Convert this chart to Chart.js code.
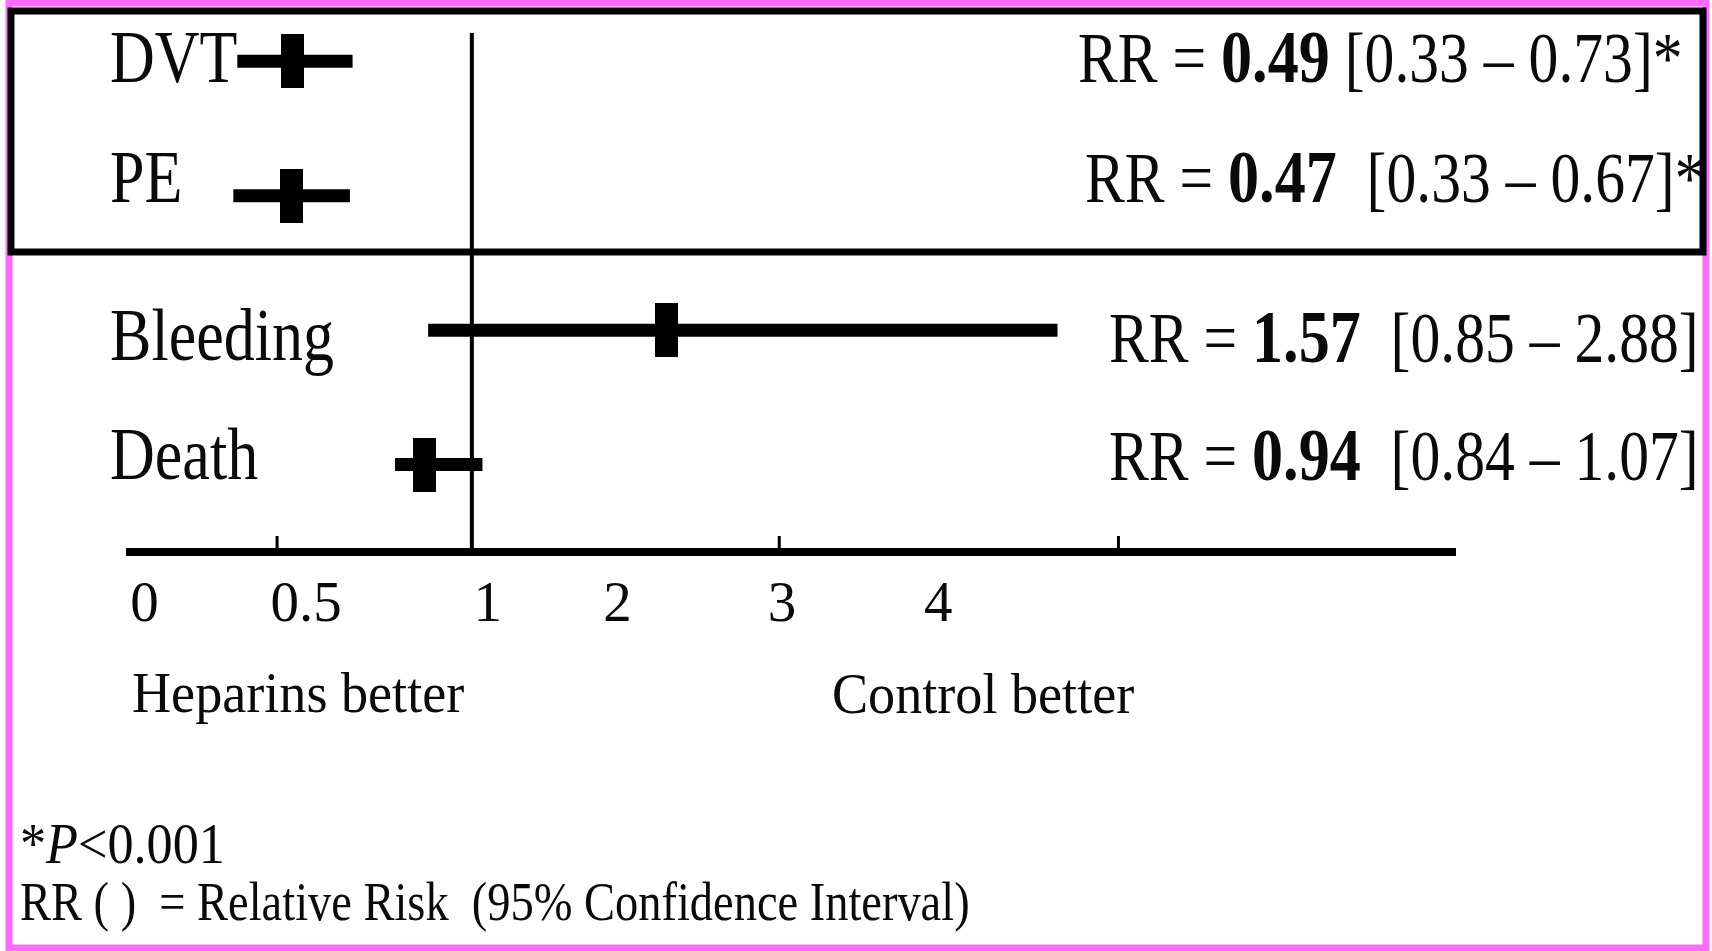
<!DOCTYPE html>
<html>
<head>
<meta charset="utf-8">
<script src="https://cdn.jsdelivr.net/npm/chart.js@4.4.1/dist/chart.umd.min.js"></script>
<style>
  html, body { margin: 0; padding: 0; background: #fff; }
  #c { display: block; }
</style>
</head>
<body>
<canvas id="c" width="1712" height="951"></canvas>
<script>
/* forest plot: heparins vs control, relative risk per outcome */
const OUTCOMES = ["DVT", "PE", "Bleeding", "Death"];
const RR = [0.49, 0.47, 1.57, 0.94];
const CI_LOW = [0.33, 0.33, 0.85, 0.84];
const CI_HIGH = [0.73, 0.67, 2.88, 1.07];
const STARRED = [true, true, false, false];

// where the figure itself puts each mark along its hand-drawn axis
// (0 = left end of the axis line, 1000 = right end)
const POS_LOW = [81, 78, 225, 200];
const POS_MID = [123, 122, 405, 222];
const POS_HIGH = [168, 166, 700, 266];
const NULL_POS = 258; // the vertical "1" line

const TICK_LABELS = ["0", "0.5", "1", "2", "3", "4"];
const TICK_LABEL_POS = [11, 133, 270, 368, 492, 610];
const TICK_MARK_POS = [111, 490, 746];

const FONT = "'Liberation Serif', 'Times New Roman', serif";
const INK = "#0a0a0a";
const Y_MIN = -0.21, Y_MAX = 3.65;

// tall black box used as the point marker
const box = document.createElement("canvas");
box.width = 23; box.height = 54;
box.getContext("2d").fillRect(0, 0, 23, 54);

// text placement (layout only)
const LABEL_DY = [21, 6, 30, 14];
const RR_DY = [21, 6, 32, 15];
const RR_X = [1078, 1085, 1109, 1109];

function txt(ctx, parts, x, y, sx) {
  ctx.save();
  ctx.translate(x, y);
  ctx.scale(sx, 1);
  ctx.textAlign = "left";
  ctx.textBaseline = "alphabetic";
  ctx.fillStyle = INK;
  let cx = 0;
  for (const [t, f] of parts) {
    ctx.font = f;
    ctx.fillText(t, cx, 0);
    cx += ctx.measureText(t).width;
  }
  ctx.restore();
}

const decor = {
  id: "decor",
  beforeDraw(chart) {
    const ctx = chart.ctx;
    ctx.save();
    ctx.fillStyle = "#fff";
    ctx.fillRect(0, 0, chart.width, chart.height);
    ctx.strokeStyle = "#fd6afd";
    ctx.lineWidth = 7;
    ctx.strokeRect(9, 3, 1697, 945);
    ctx.restore();
  },
  afterDraw(chart) {
    const { ctx, scales: { x, y } } = chart;
    ctx.save();
    // box round the two significant outcomes
    ctx.strokeStyle = "#000";
    ctx.lineWidth = 7;
    ctx.strokeRect(11, 11, 1692, 241);
    // small ticks standing on the axis
    ctx.fillStyle = "#000";
    const top = x.top - 4;
    TICK_MARK_POS.forEach(v => ctx.fillRect(x.getPixelForValue(v) - 1.5, top - 12, 3, 12));
    ctx.restore();

    const reg = s => s + "px " + FONT;
    OUTCOMES.forEach((o, i) => {
      const py = y.getPixelForValue(i);
      txt(ctx, [[o, reg(73)]], 110, py + LABEL_DY[i], 0.85);
      const gap = i === 0 ? " " : "  ";
      txt(ctx, [
        ["RR = ", reg(71)],
        [RR[i].toFixed(2), "bold " + reg(74)],
        [gap + "[" + CI_LOW[i].toFixed(2) + " \u2013 " + CI_HIGH[i].toFixed(2) + "]" + (STARRED[i] ? "*" : ""), reg(71)]
      ], RR_X[i], py + RR_DY[i], 0.84);
    });

    txt(ctx, [["Heparins better", reg(57)]], 132, 712, 0.95);
    txt(ctx, [["Control better", reg(57)]], 832, 713, 0.95);
    txt(ctx, [["*", reg(58)], ["P", "italic " + reg(58)], ["<0.001", reg(58)]], 20, 863, 0.9);
    txt(ctx, [["RR ( )  = Relative Risk  (95% Confidence Interval)", reg(54)]], 20, 920, 0.86);
  }
};

const datasets = [
  ...OUTCOMES.map((o, i) => ({
    type: "line", label: o + " 95% CI",
    data: [{ x: POS_LOW[i], y: i }, { x: POS_HIGH[i], y: i }],
    borderColor: "#000", borderWidth: 13, borderCapStyle: "butt", pointRadius: 0,
  })),
  {
    type: "scatter", label: "RR",
    data: OUTCOMES.map((o, i) => ({ x: POS_MID[i], y: i })),
    pointStyle: box, pointRadius: 12, backgroundColor: "#000",
  },
  {
    type: "line", label: "RR = 1",
    data: [{ x: NULL_POS, y: Y_MIN }, { x: NULL_POS, y: Y_MAX }],
    borderColor: "#000", borderWidth: 4, pointRadius: 0,
  },
];

new Chart(document.getElementById("c"), {
  data: { datasets },
  options: {
    responsive: false, animation: false, events: [],
    layout: { padding: { left: 130, right: 257, top: 33, bottom: 299 } },
    plugins: { legend: { display: false }, tooltip: { enabled: false } },
    scales: {
      x: {
        type: "linear", position: "bottom", min: 0, max: 1000,
        afterBuildTicks: s => { s.ticks = TICK_LABEL_POS.map(v => ({ value: v })); },
        afterFit: s => { s.height = 100; },
        grid: { display: false, drawTicks: false },
        border: { display: true, color: "#000", width: 8 },
        ticks: {
          autoSkip: false, maxRotation: 0, minRotation: 0, padding: 20, color: INK,
          font: { family: FONT, size: 57 },
          callback: (v, i) => TICK_LABELS[i],
        },
      },
      y: { type: "linear", min: Y_MIN, max: Y_MAX, reverse: true, display: false },
    },
  },
  plugins: [decor],
});
</script>
</body>
</html>
